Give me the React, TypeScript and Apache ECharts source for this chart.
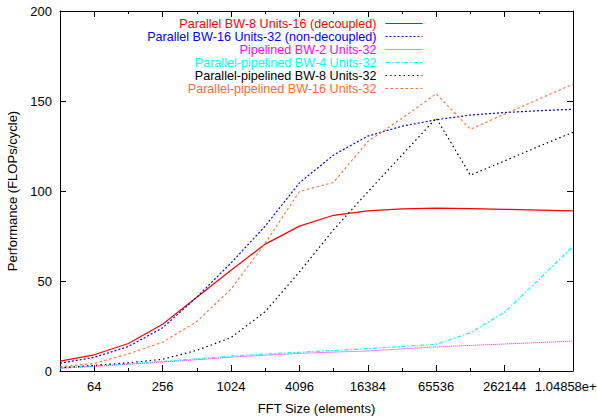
import { useEffect, useRef } from 'react';
import * as echarts from 'echarts';

// FFT sizes (elements), one point per power of two
const fftSizes = [32, 64, 128, 256, 512, 1024, 2048, 4096, 8192, 16384, 32768, 65536, 131072, 262144, 524288, 1048576];

// Performance in FLOPs/cycle for each design
const parallelBw8Units16Decoupled = [5.5, 9, 15.3, 26, 41, 56, 70.5, 80.5, 86.5, 89, 90.1, 90.5, 90.2, 89.8, 89.4, 89];
const parallelBw16Units32NonDecoupled = [4.3, 7.6, 13.6, 24, 41, 60, 80.5, 104.5, 120, 130.5, 136, 139.6, 142.2, 143.6, 144.6, 145.4];
const pipelinedBw2Units32 = [1.5, 2.6, 3.8, 5, 6.3, 7.7, 8.8, 9.8, 10.5, 11.1, 12.3, 13.4, 14.2, 15, 15.8, 16.6];
const parPipeBw4Units32 = [1.6, 2.8, 4, 5.3, 6.8, 8.3, 9.4, 10.4, 11.4, 12.4, 13.6, 14.8, 21.3, 32.7, 50.8, 69.3];
const parPipeBw8Units32 = [1.8, 3.1, 4.6, 6.5, 11.5, 18.5, 33, 55, 78.5, 99.5, 120, 140.5, 108.8, 116.7, 124.8, 132.6];
const parPipeBw16Units32 = [2.3, 4.2, 9.5, 16, 27.5, 45.5, 71, 99.7, 104.8, 127.5, 140.4, 154, 134.3, 142.7, 151.1, 159.4];

// Axis ticks
const majorTickSizes = [64, 256, 1024, 4096, 16384, 65536, 262144, 1048576];
const majorTickLabels = ['64', '256', '1024', '4096', '16384', '65536', '262144', '1.04858e+06'];
const minorTickSizes = [128, 512, 2048, 8192, 32768, 131072, 524288];
const yTicks = [0, 50, 100, 150, 200];

const FONT = '"Liberation Sans", Arial, Helvetica, sans-serif';
const FONT_SIZE = 13;
const LEGEND_FONT_SIZE = 12.6;

const seriesDefs = [
  { name: 'Parallel BW-8 Units-16 (decoupled)', data: parallelBw8Units16Decoupled, color: '#ff0000', dash: 'solid' as any, width: 1.2 },
  { name: 'Parallel BW-16 Units-32 (non-decoupled)', data: parallelBw16Units32NonDecoupled, color: '#0000ff', dash: [2, 2], width: 1.2 },
  { name: 'Pipelined BW-2 Units-32', data: pipelinedBw2Units32, color: '#ff00ff', dash: [1, 1], width: 1 },
  { name: 'Parallel-pipelined BW-4 Units-32', data: parPipeBw4Units32, color: '#00ffff', dash: [4, 2, 1.5, 2], width: 1.2 },
  { name: 'Parallel-pipelined BW-8 Units-32', data: parPipeBw8Units32, color: '#000000', dash: [1.5, 3], width: 1.2 },
  { name: 'Parallel-pipelined BW-16 Units-32', data: parPipeBw16Units32, color: '#ff6a33', dash: [2.5, 2.5], width: 1.1 },
];

const log2 = (v: number) => Math.log2(v);
const xMin = log2(fftSizes[0]);
const xMax = log2(fftSizes[fftSizes.length - 1]);

function xAxisDef(position: 'bottom' | 'top', ticks: number[], length: number, withLabels: boolean, withLine: boolean) {
  return {
    type: 'value',
    position,
    min: xMin,
    max: xMax,
    offset: 0,
    axisLine: { show: withLine, onZero: false, lineStyle: { color: '#000', width: 1 } },
    axisTick: {
      show: true,
      inside: true,
      length,
      customValues: ticks.map(log2),
      lineStyle: { color: '#000', width: 1 },
    },
    axisLabel: {
      show: withLabels,
      customValues: majorTickSizes.map(log2),
      margin: 9,
      fontSize: FONT_SIZE,
      fontFamily: FONT,
      color: '#000',
      formatter: (v: number) => {
        const idx = majorTickSizes.findIndex((s) => Math.abs(log2(s) - v) < 1e-6);
        return idx >= 0 ? majorTickLabels[idx] : '';
      },
    },
    splitLine: { show: false },
    ...(withLabels
      ? {
          name: 'FFT Size (elements)',
          nameLocation: 'middle',
          nameGap: 31,
          nameTextStyle: { fontSize: FONT_SIZE, fontFamily: FONT, color: '#000' },
        }
      : {}),
  };
}

function yAxisDef(position: 'left' | 'right', withLabels: boolean) {
  return {
    type: 'value',
    position,
    min: 0,
    max: 200,
    interval: 50,
    axisLine: { show: true, onZero: false, lineStyle: { color: '#000', width: 1 } },
    axisTick: { show: true, inside: true, length: 6, customValues: yTicks, lineStyle: { color: '#000', width: 1 } },
    axisLabel: { show: withLabels, margin: 8, fontSize: FONT_SIZE, fontFamily: FONT, color: '#000' },
    splitLine: { show: false },
    ...(withLabels
      ? {
          name: 'Performance (FLOPs/cycle)',
          nameLocation: 'middle',
          nameGap: 38,
          nameRotate: 90,
          nameTextStyle: { fontSize: FONT_SIZE, fontFamily: FONT, color: '#000' },
        }
      : {}),
  };
}

export default function App() {
  const ref = useRef<HTMLDivElement>(null);

  useEffect(() => {
    if (!ref.current) return;
    const chart = echarts.init(ref.current, undefined, { renderer: 'svg' });
    chart.setOption({
      animation: false,
      backgroundColor: '#fff',
      grid: { left: 60, right: 24, top: 11, bottom: 46, containLabel: false, outerBoundsMode: 'none' },
      legend: {
        orient: 'vertical',
        align: 'right',
        right: 174,
        top: 17,
        padding: 0,
        itemGap: 0,
        itemWidth: 37,
        itemHeight: 10,
        selectedMode: false,
        itemStyle: { opacity: 0 },
        lineStyle: { width: 1 },
        textStyle: { fontSize: LEGEND_FONT_SIZE, fontFamily: FONT, lineHeight: 12.7, padding: [0, 4, 0, 0] },
        data: seriesDefs.map((s) => ({ name: s.name, textStyle: { color: s.color } })),
      },
      xAxis: [
        xAxisDef('bottom', majorTickSizes, 6, true, true),
        xAxisDef('bottom', minorTickSizes, 3, false, false),
        xAxisDef('top', majorTickSizes, 6, false, true),
        xAxisDef('top', minorTickSizes, 3, false, false),
      ],
      yAxis: [yAxisDef('left', true), yAxisDef('right', false)],
      series: seriesDefs.map((s) => ({
        name: s.name,
        type: 'line',
        xAxisIndex: 0,
        yAxisIndex: 0,
        symbol: 'none',
        data: fftSizes.map((size, i) => [log2(size), s.data[i]]),
        lineStyle: { color: s.color, width: s.width, type: s.dash },
        itemStyle: { color: s.color },
        z: 2,
      })),
    });
    return () => chart.dispose();
  }, []);

  return (
    <div
      ref={ref}
      style={{ position: 'fixed', left: 0, top: 0, width: 597, height: 417, background: '#fff' }}
    />
  );
}
